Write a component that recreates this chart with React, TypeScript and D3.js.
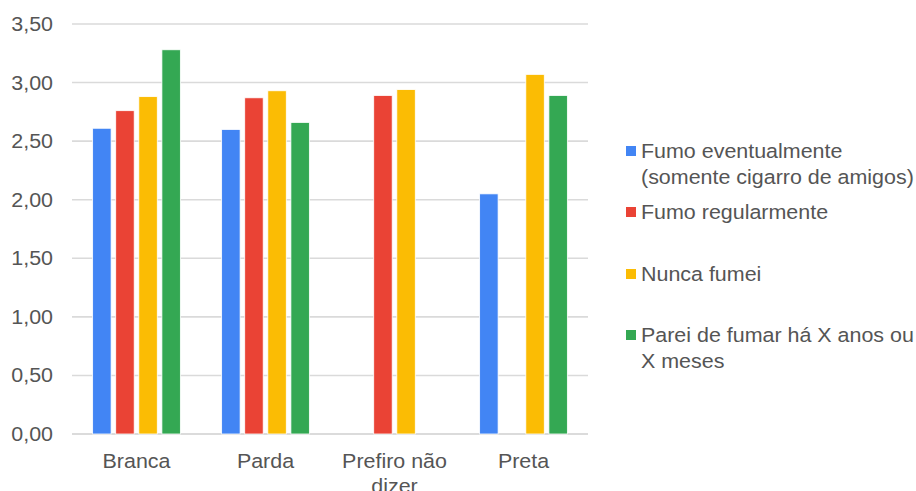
import React from "react";
import * as d3 from "d3";

const categories = ["Branca", "Parda", "Prefiro não dizer", "Preta"];
const categoryLines = [["Branca"], ["Parda"], ["Prefiro não", "dizer"], ["Preta"]];
const seriesNames = [
  "Fumo eventualmente (somente cigarro de amigos)",
  "Fumo regularmente",
  "Nunca fumei",
  "Parei de fumar há X anos ou X meses",
];
const legendLines = [
  ["Fumo eventualmente", "(somente cigarro de amigos)"],
  ["Fumo regularmente"],
  ["Nunca fumei"],
  ["Parei de fumar há X anos ou", "X meses"],
];
const colors = ["#4285F4", "#EA4335", "#FBBC04", "#34A853"];

// values per series, one per category (null = no bar)
const eventualmente: (number | null)[] = [2.61, 2.6, null, 2.05];
const regularmente: (number | null)[] = [2.76, 2.87, 2.89, null];
const nuncaFumei: (number | null)[] = [2.88, 2.93, 2.94, 3.07];
const pareiDeFumar: (number | null)[] = [3.28, 2.66, null, 2.89];
const seriesValues = [eventualmente, regularmente, nuncaFumei, pareiDeFumar];

const yTicks = [0, 0.5, 1, 1.5, 2, 2.5, 3, 3.5];

const W = 916;
const H = 491;
const plotLeft = 72;
const plotRight = 588;
const plotTop = 24;
const plotBottom = 434;
const font = "'Liberation Sans', Arial, sans-serif";
const textColor = "#555555";
const fontSize = 19.5;
const stretch = 1.1;

// text drawn slightly wide, anchored at (x, y)
function Label(props: {
  x: number;
  y: number;
  anchor?: "start" | "middle" | "end";
  lines: string[];
  lineHeight?: number;
  dy?: string;
}) {
  const { x, y, anchor = "start", lines, lineHeight = 26, dy = "0" } = props;
  return (
    <g transform={`translate(${x},${y}) scale(${stretch},1)`}>
      <text textAnchor={anchor} fontSize={fontSize} fill={textColor}>
        {lines.map((ln, li) => (
          <tspan key={li} x={0} dy={li === 0 ? dy : lineHeight}>
            {ln}
          </tspan>
        ))}
      </text>
    </g>
  );
}

export default function App() {
  const y = d3.scaleLinear().domain([0, 3.5]).range([plotBottom, plotTop]);
  const x0 = d3
    .scaleBand<string>()
    .domain(categories)
    .range([plotLeft, plotRight])
    .paddingInner(0.32)
    .paddingOuter(0.16);
  const x1 = d3
    .scaleBand<string>()
    .domain(seriesNames)
    .range([0, x0.bandwidth()])
    .paddingInner(0.2);
  const fmt = (v: number) => d3.format(".2f")(v).replace(".", ",");
  const legendY = [151, 212, 274, 335];

  return (
    <svg
      width={W}
      height={H}
      style={{ position: "absolute", left: 0, top: 0, background: "#fff" }}
      fontFamily={font}
    >
      {yTicks.map((t) => (
        <g key={t}>
          <line
            x1={plotLeft}
            x2={plotRight}
            y1={y(t)}
            y2={y(t)}
            stroke={t === 0 ? "#cfcfcf" : "#dadada"}
            strokeWidth={1.6}
          />
          <Label x={53} y={y(t)} anchor="end" lines={[fmt(t)]} dy="0.36em" />
        </g>
      ))}

      {categories.map((c, ci) => (
        <g key={c} transform={`translate(${x0(c)},0)`}>
          {seriesNames.map((s, si) => {
            const v = seriesValues[si][ci];
            if (v == null) return null;
            return (
              <rect
                key={s}
                x={x1(s)}
                y={y(v)}
                width={x1.bandwidth()}
                height={y(0) - y(v)}
                fill={colors[si]}
                stroke="#ffffff"
                strokeWidth={0.8}
              />
            );
          })}
        </g>
      ))}

      {categories.map((c, ci) => (
        <Label
          key={c}
          x={(x0(c) as number) + x0.bandwidth() / 2}
          y={468}
          anchor="middle"
          lines={categoryLines[ci]}
          lineHeight={25}
        />
      ))}

      {legendLines.map((lines, i) => (
        <g key={i}>
          <rect x={626} y={legendY[i] - 5} width={10} height={10} fill={colors[i]} />
          <Label x={641} y={legendY[i]} lines={lines} dy="0.36em" lineHeight={26} />
        </g>
      ))}
    </svg>
  );
}
